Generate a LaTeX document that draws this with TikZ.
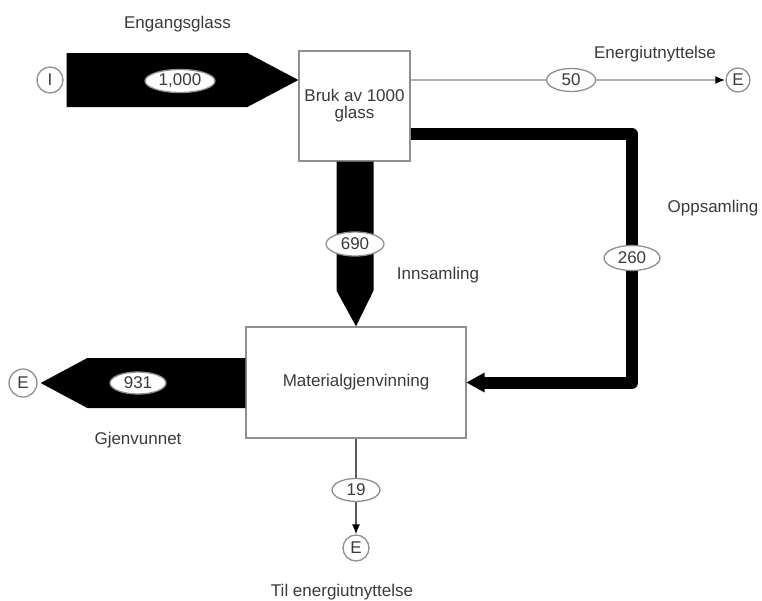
\documentclass[tikz,border=0pt]{standalone}
\usepackage{fontspec}
\setmainfont{Liberation Sans}
\usetikzlibrary{shapes.geometric,arrows.meta,calc}
\definecolor{txt}{HTML}{3A3A3A}
\definecolor{edge}{HTML}{8F8F8F}
\definecolor{lightline}{HTML}{B0B0B0}
\definecolor{darkline}{HTML}{5A5A5A}
\begin{document}
\begin{tikzpicture}[x=1pt,y=-1pt,
  every node/.style={font=\fontsize{17}{17}\selectfont, text=txt},
  proc/.style={draw=edge, line width=1.3pt, fill=white, inner sep=0pt},
  term/.style={circle, draw=edge, line width=1.3pt, fill=white, inner sep=0pt, minimum size=#1},
  lab/.style={ellipse, draw=edge, line width=1.3pt, fill=white, inner sep=0pt, minimum height=23pt},
  flow/.style={fill=black},
  lightflow/.style={draw=lightline, line width=2pt, -{Latex[length=10pt,width=8pt,color=black]}},
  darkflow/.style={draw=darkline, line width=1.3pt, -{Latex[length=10pt,width=8pt,color=black]}},
  tag/.style={anchor=base},
]
\useasboundingbox (0,0) rectangle (762,600);

% process boxes and terminals
\node[proc, minimum width=111pt, minimum height=110pt, align=center] (B1) at (354.5,106) {Bruk av 1000\\glass};
\node[proc, minimum width=220pt, minimum height=111pt] (B2) at (356,382.5) {Materialgjenvinning};
\node[term=26pt] (I) at (50,80) {I};
\node[term=24pt] (E1) at (738,80) {E};
\node[term=28pt] (E2) at (23,383) {E};
\node[term=26pt] (E3) at (356,548) {E};

% input flow
\coordinate (inTip) at (B1.west |- I);
\fill[flow] ($(I.east)+(3,-27)$) -- ($(inTip)+(-51,-27)$) -- (inTip) -- ($(inTip)+(-51,27)$) -- ($(I.east)+(3,27)$) -- cycle;
\node[lab, minimum width=70pt] (L1000) at (180,81) {1,000};

% energy flow
\draw[lightflow] (B1.east |- E1) -- node[lab, minimum width=49pt, pos=0.51] (L50) {50} (E1);

% collection flow
\fill[flow] ($(B1.south)+(-18,0)$) -- ($(B1.south)+(19,0)$) -- ($(B1.south)+(19,129)$) -- (B2.north) -- ($(B1.south)+(-18,129)$) -- cycle;
\node[lab, minimum width=58pt, minimum height=24pt] (L690) at (355,244) {690};

% feedback flow
\coordinate (yTop) at (0,134);
\coordinate (fbTop) at (632,134);
\draw[line width=12pt, line join=round] (B1.east |- yTop) -- (fbTop) -- (fbTop |- B2.east) -- ($(B2.east)+(16,0)$);
\fill[flow] ($(B2.east)+(18,-10)$) -- (B2.east) -- ($(B2.east)+(18,10)$) -- cycle;
\node[lab, minimum width=56pt, minimum height=25pt] (L260) at (632,258) {260};

% recovered flow
\fill[flow] ($(B2.west)+(0,-24.5)$) -- ($(B2.west)+(-158,-24.5)$) -- ($(E2.east)+(3,0)$) -- ($(B2.west)+(-158,25.5)$) -- ($(B2.west)+(0,25.5)$) -- cycle;
\node[lab, minimum width=56pt, minimum height=22pt] (L931) at (138,383) {931};

% bottom flow
\draw[darkflow] (B2.south) -- node[lab, minimum width=48pt, pos=0.536] (L19) {19} (E3);

% labels
\node[tag] (tEng) at (177.5,28) {Engangsglass};
\node[tag] (tEnergi) at (655,58) {Energiutnyttelse};
\node[tag] (tOpp) at (713,212) {Oppsamling};
\node[tag] (tInn) at (438,279) {Innsamling};
\node[tag] (tGjen) at (138,444) {Gjenvunnet};
\node[tag] (tTil) at (342,596) {Til energiutnyttelse};
\end{tikzpicture}
\end{document}
